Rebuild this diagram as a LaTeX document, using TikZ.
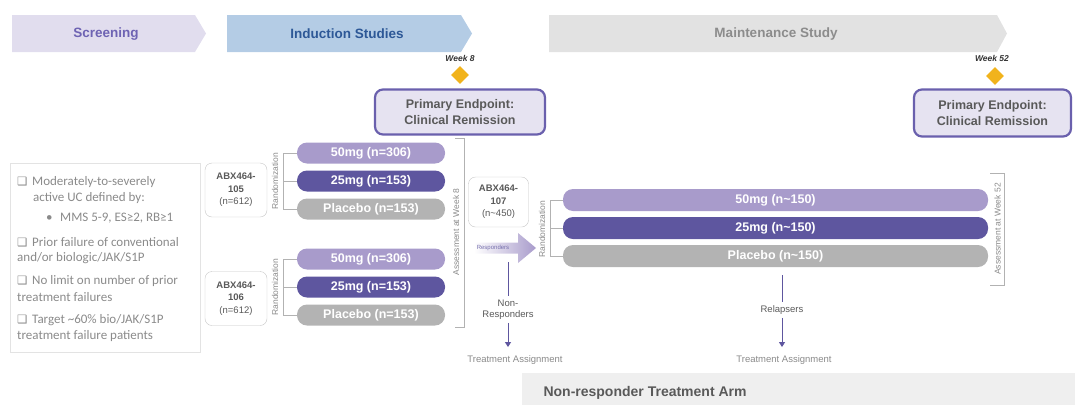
\documentclass[tikz,border=0pt]{standalone}
\usepackage{fontspec}
\setmainfont{Liberation Sans}
\newfontfamily\calib{Carlito}
\newfontfamily\dejavu{DejaVu Sans}
\usetikzlibrary{shapes.geometric,arrows.meta}

\definecolor{lav}{HTML}{A89BCB}
\definecolor{dpur}{HTML}{5E569F}
\definecolor{plgray}{HTML}{B3B3B3}
\definecolor{scrfill}{HTML}{E1DDEE}
\definecolor{scrtext}{HTML}{6E63B3}
\definecolor{indfill}{HTML}{B4CCE5}
\definecolor{indtext}{HTML}{2D5897}
\definecolor{mntfill}{HTML}{E2E2E2}
\definecolor{mnttext}{HTML}{8C8C8C}
\definecolor{epfill}{HTML}{E6E3F1}
\definecolor{epline}{HTML}{6A60AD}
\definecolor{gold}{HTML}{F1B31C}
\definecolor{txgray}{HTML}{595959}
\definecolor{ltgray}{HTML}{8A8A8A}
\definecolor{nrfill}{HTML}{EFEFEF}

\newcommand{\chkbox}{\makebox[15pt][l]{\dejavu\fontsize{11.5}{11}\selectfont ❑}}

\begin{document}
\begin{tikzpicture}[x=1pt,y=-1pt,
    bar/.style={rounded corners=10pt, minimum height=21pt, inner sep=0pt, text=white, font=\fontsize{12.5}{14}\selectfont\bfseries},
    studybox/.style={draw=gray!45, rounded corners=7pt, fill=white, align=center, text=txgray, font=\fontsize{9.5}{12.5}\selectfont, minimum width=62pt, minimum height=54pt, inner sep=0pt},
    endpoint/.style={draw=epline, line width=2.2pt, fill=epfill, rounded corners=8pt, align=center, text=txgray, font=\fontsize{12.5}{16}\selectfont\bfseries, inner sep=0pt},
    phase/.style={font=\fontsize{13.5}{15}\selectfont\bfseries},
    wk/.style={font=\fontsize{8.5}{9}\selectfont\bfseries\itshape, text=black!80},
    gem/.style={diamond, fill=gold, minimum size=18pt, inner sep=0pt},
    rnd/.style={rotate=90, font=\fontsize{8.5}{9}\selectfont, text=ltgray},
    bracket/.style={draw=gray!60, line width=0.6pt},
    crit/.style={anchor=west, inner sep=0pt, text=ltgray, font=\calib\fontsize{13}{15}\selectfont},
    small/.style={font=\fontsize{9.5}{11}\selectfont, text=ltgray, align=center},
    flow/.style={draw=dpur, line width=1pt},
  ]
    \useasboundingbox (0,0) rectangle (1075,405);

    % 帯
    \fill[scrfill] (12,15) -- (195,15) -- (206,33.5) -- (195,52) -- (12,52) -- cycle;
    \fill[indfill] (227,15) -- (461,15) -- (472,33.5) -- (461,52) -- (227,52) -- cycle;
    \fill[mntfill] (549,15) -- (997,15) -- (1007,33.5) -- (997,52) -- (549,52) -- cycle;
    \node[phase, text=scrtext] (screen) at (106,34) {Screening};
    \node[phase, text=indtext] (induct) at (347,34) {Induction Studies};
    \node[phase, text=mnttext] (maint) at (776,34) {Maintenance Study};

    % 評価点
    \node[wk] (w8) at (460,58) {Week 8};
    \node[gem] (d8) at (460,75) {};
    \node[endpoint, minimum width=170pt, minimum height=45pt] (ep8) at (460,112) {Primary Endpoint:\\Clinical Remission};
    \node[wk] (w52) at (992,58) {Week 52};
    \node[gem] (d52) at (995,76) {};
    \node[endpoint, minimum width=157pt, minimum height=47pt] (ep52) at (992.5,113) {Primary Endpoint:\\Clinical Remission};

    % 選択基準
    \node[draw=gray!22, minimum width=190pt, minimum height=189pt] (crit) at (105,257.5) {};
    \node[crit] (c1) at (17,182) {\chkbox Moderately-to-severely};
    \node[crit] (c2) at (33,198) {active UC defined by:};
    \node[crit] (c3) at (46,218) {\makebox[14pt][l]{\textbullet}MMS 5-9, ES≥2, RB≥1};
    \node[crit] (c4) at (17,242) {\chkbox Prior failure of conventional};
    \node[crit] (c5) at (17,258) {and/or biologic/JAK/S1P};
    \node[crit] (c6) at (17,281) {\chkbox No limit on number of prior};
    \node[crit] (c7) at (17,297) {treatment failures};
    \node[crit] (c8) at (17,320) {\chkbox Target \textasciitilde60\% bio/JAK/S1P};
    \node[crit] (c9) at (17,336) {treatment failure patients};

    % 導入試験
    \node[studybox] (s105) at (236,190) {\textbf{ABX464-}\\\textbf{105}\\(n=612)};
    \node[studybox] (s106) at (236,298.5) {\textbf{ABX464-}\\\textbf{106}\\(n=612)};
    \node[rnd] (r105) at (275,181) {Randomization};
    \node[rnd] (r106) at (275,287) {Randomization};
    \node[bar, fill=lav, minimum width=148pt] (a50) at (371,153) {50mg (n=306)};
    \node[bar, fill=dpur, minimum width=148pt] (a25) at (371,181) {25mg (n=153)};
    \node[bar, fill=plgray, minimum width=148pt] (apl) at (371,209) {Placebo (n=153)};
    \node[bar, fill=lav, minimum width=148pt] (b50) at (371,259) {50mg (n=306)};
    \node[bar, fill=dpur, minimum width=148pt] (b25) at (371,287) {25mg (n=153)};
    \node[bar, fill=plgray, minimum width=148pt] (bpl) at (371,315) {Placebo (n=153)};

    % 線を引く
    \draw[bracket] (a50.west) -- ++(-14,0) |- (apl.west);
    \draw[bracket] (a25.west) -- ++(-14,0);
    \draw[bracket] (b50.west) -- ++(-14,0) |- (bpl.west);
    \draw[bracket] (b25.west) -- ++(-14,0);
    \draw[bracket] (455,138) -- (464,138) -- (464,327) -- (455,327);
    \node[rnd] (as8) at (456,232) {Assessment at Week 8};

    % 維持試験
    \node[studybox, minimum width=60pt, minimum height=50pt] (s107) at (498.5,202) {\textbf{ABX464-}\\\textbf{107}\\(n\textasciitilde450)};
    \shade[left color=white, right color=lav] (474,242.5) -- (518,242.5) -- (518,233) -- (536,248) -- (518,263) -- (518,253.5) -- (474,253.5) -- cycle;
    \node[font=\fontsize{6}{7}\selectfont, text=dpur!85] (resp) at (493,248) {Responders};
    \node[rnd] (r107) at (542,229) {Randomization};
    \node[bar, fill=lav, minimum width=425pt, minimum height=22pt] (m50) at (775.5,200) {50mg (n\textasciitilde150)};
    \node[bar, fill=dpur, minimum width=425pt, minimum height=22pt] (m25) at (775.5,228) {25mg (n\textasciitilde150)};
    \node[bar, fill=plgray, minimum width=425pt, minimum height=22pt] (mpl) at (775.5,256) {Placebo (n\textasciitilde150)};
    \draw[bracket] (m50.west) -- ++(-13,0) |- (mpl.west);
    \draw[bracket] (m25.west) -- ++(-13,0);
    \draw[bracket] (990,173) -- (1004,173) -- (1004,285) -- (990,285);
    \node[rnd] (as52) at (997.5,229) {Assessment at Week 52};

    % 非反応例・再燃例
    \coordinate (nrtop) at (508,262);
    \node[small, text=txgray] (nonresp) at (508,309.5) {Non-\\Responders};
    \node[small] (ta1) at (515,360) {Treatment Assignment};
    \draw[flow] (nrtop) -- (nonresp.north);
    \draw[flow, -{Triangle[length=5pt,width=6pt]}, shorten >=5pt] (nonresp.south) -- (nonresp.south |- ta1.north);
    \coordinate (rltop) at (782,275);
    \node[small, text=txgray] (relap) at (782,310) {Relapsers};
    \node[small] (ta2) at (784,360) {Treatment Assignment};
    \draw[flow] (rltop) -- (relap.north);
    \draw[flow, -{Triangle[length=5pt,width=6pt]}, shorten >=5pt] (relap.south) -- (relap.south |- ta2.north);

    % 非反応例の治療群
    \fill[nrfill] (522,373) rectangle (1075,405);
    \node[anchor=west, font=\fontsize{14}{16}\selectfont\bfseries, text=txgray] (nrarm) at (540,393) {Non-responder Treatment Arm};

  \end{tikzpicture}
\end{document}
